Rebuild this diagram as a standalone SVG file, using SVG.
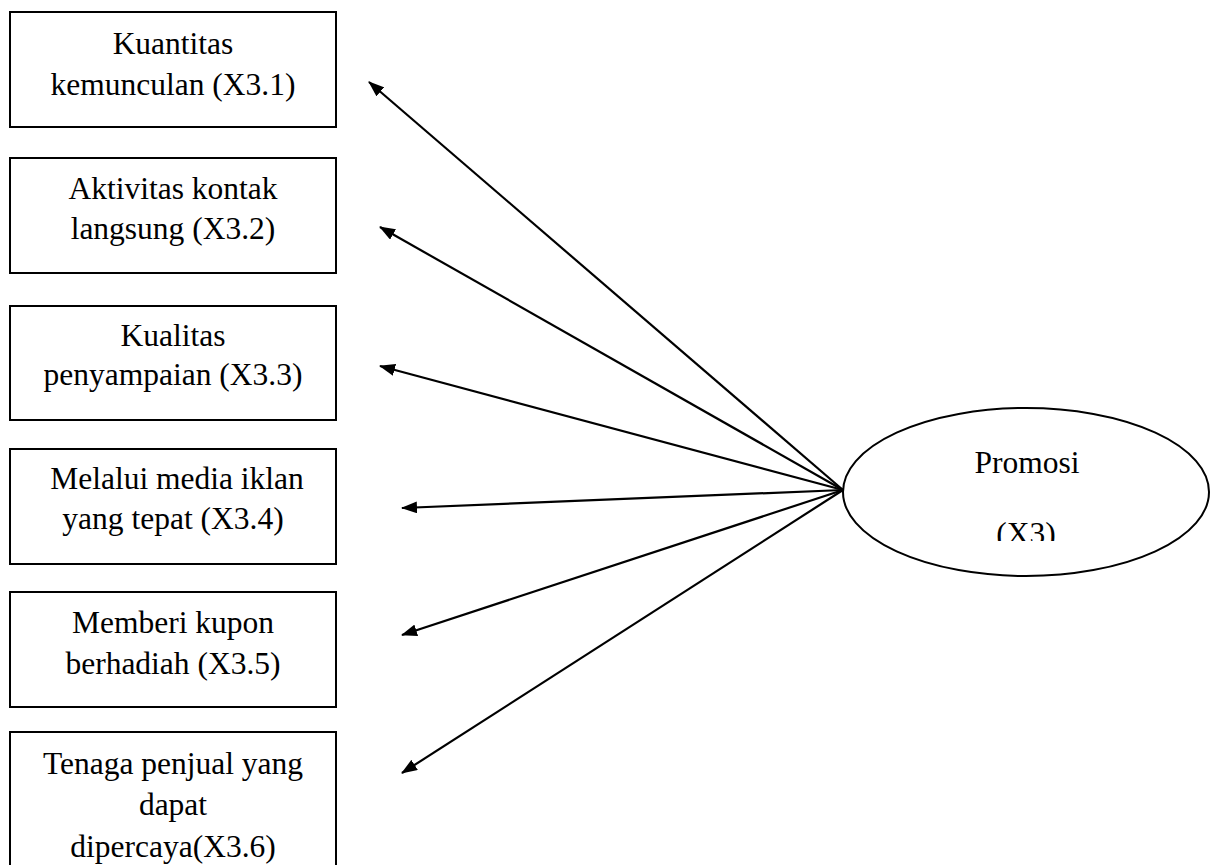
<svg xmlns="http://www.w3.org/2000/svg" width="1219" height="865" viewBox="0 0 1219 865">
  <style>
    .box { fill: #ffffff; stroke: #000000; stroke-width: 2; }
    .oval { fill: #ffffff; stroke: #000000; stroke-width: 2; }
    .lbl { font-family: "Liberation Serif", "Times New Roman", serif; font-size: 31.5px; fill: #000000; text-anchor: middle; }
    .edge { stroke: #000000; stroke-width: 2.2; fill: none; marker-end: url(#arrow); }
  </style>
  <defs>
    <marker id="arrow" viewBox="0 0 16 12" refX="15" refY="6" markerWidth="16" markerHeight="12" markerUnits="userSpaceOnUse" orient="auto">
      <path d="M0,0 L16,6 L0,12 z" fill="#000000"/>
    </marker>
    <clipPath id="ovalTextClip">
      <rect x="840" y="400" width="379" height="141"/>
    </clipPath>
  </defs>
  <rect width="1219" height="865" fill="#ffffff"/>

  <g id="n1">
    <rect class="box" x="10" y="12" width="326" height="115"/>
    <text class="lbl" x="173" y="54">Kuantitas</text>
    <text class="lbl" x="173" y="95">kemunculan (X3.1)</text>
  </g>
  <g id="n2">
    <rect class="box" x="10" y="158" width="326" height="115"/>
    <text class="lbl" x="173" y="199">Aktivitas kontak</text>
    <text class="lbl" x="173" y="239">langsung (X3.2)</text>
  </g>
  <g id="n3">
    <rect class="box" x="10" y="306" width="326" height="114"/>
    <text class="lbl" x="173" y="346">Kualitas</text>
    <text class="lbl" x="173" y="385">penyampaian (X3.3)</text>
  </g>
  <g id="n4">
    <rect class="box" x="10" y="449" width="326" height="115"/>
    <text class="lbl" x="177" y="489">Melalui media iklan</text>
    <text class="lbl" x="173" y="529">yang tepat (X3.4)</text>
  </g>
  <g id="n5">
    <rect class="box" x="10" y="592" width="326" height="115"/>
    <text class="lbl" x="173" y="633">Memberi kupon</text>
    <text class="lbl" x="173" y="674">berhadiah (X3.5)</text>
  </g>
  <g id="n6">
    <rect class="box" x="10" y="732" width="326" height="140"/>
    <text class="lbl" x="173" y="774">Tenaga penjual yang</text>
    <text class="lbl" x="173" y="815">dapat</text>
    <text class="lbl" x="173" y="857">dipercaya(X3.6)</text>
  </g>

  <g id="promosi">
    <ellipse class="oval" cx="1026" cy="492" rx="183" ry="84"/>
    <text class="lbl" x="1027" y="473">Promosi</text>
    <text class="lbl" x="1026" y="544" clip-path="url(#ovalTextClip)">(X3)</text>
  </g>

  <g id="connectors">
    <line class="edge" x1="843" y1="490" x2="369" y2="82"/>
    <line class="edge" x1="843" y1="490" x2="380" y2="227"/>
    <line class="edge" x1="843" y1="490" x2="380" y2="366"/>
    <line class="edge" x1="843" y1="490" x2="402" y2="508"/>
    <line class="edge" x1="843" y1="490" x2="402" y2="635"/>
    <line class="edge" x1="843" y1="490" x2="402" y2="773"/>
  </g>
</svg>
